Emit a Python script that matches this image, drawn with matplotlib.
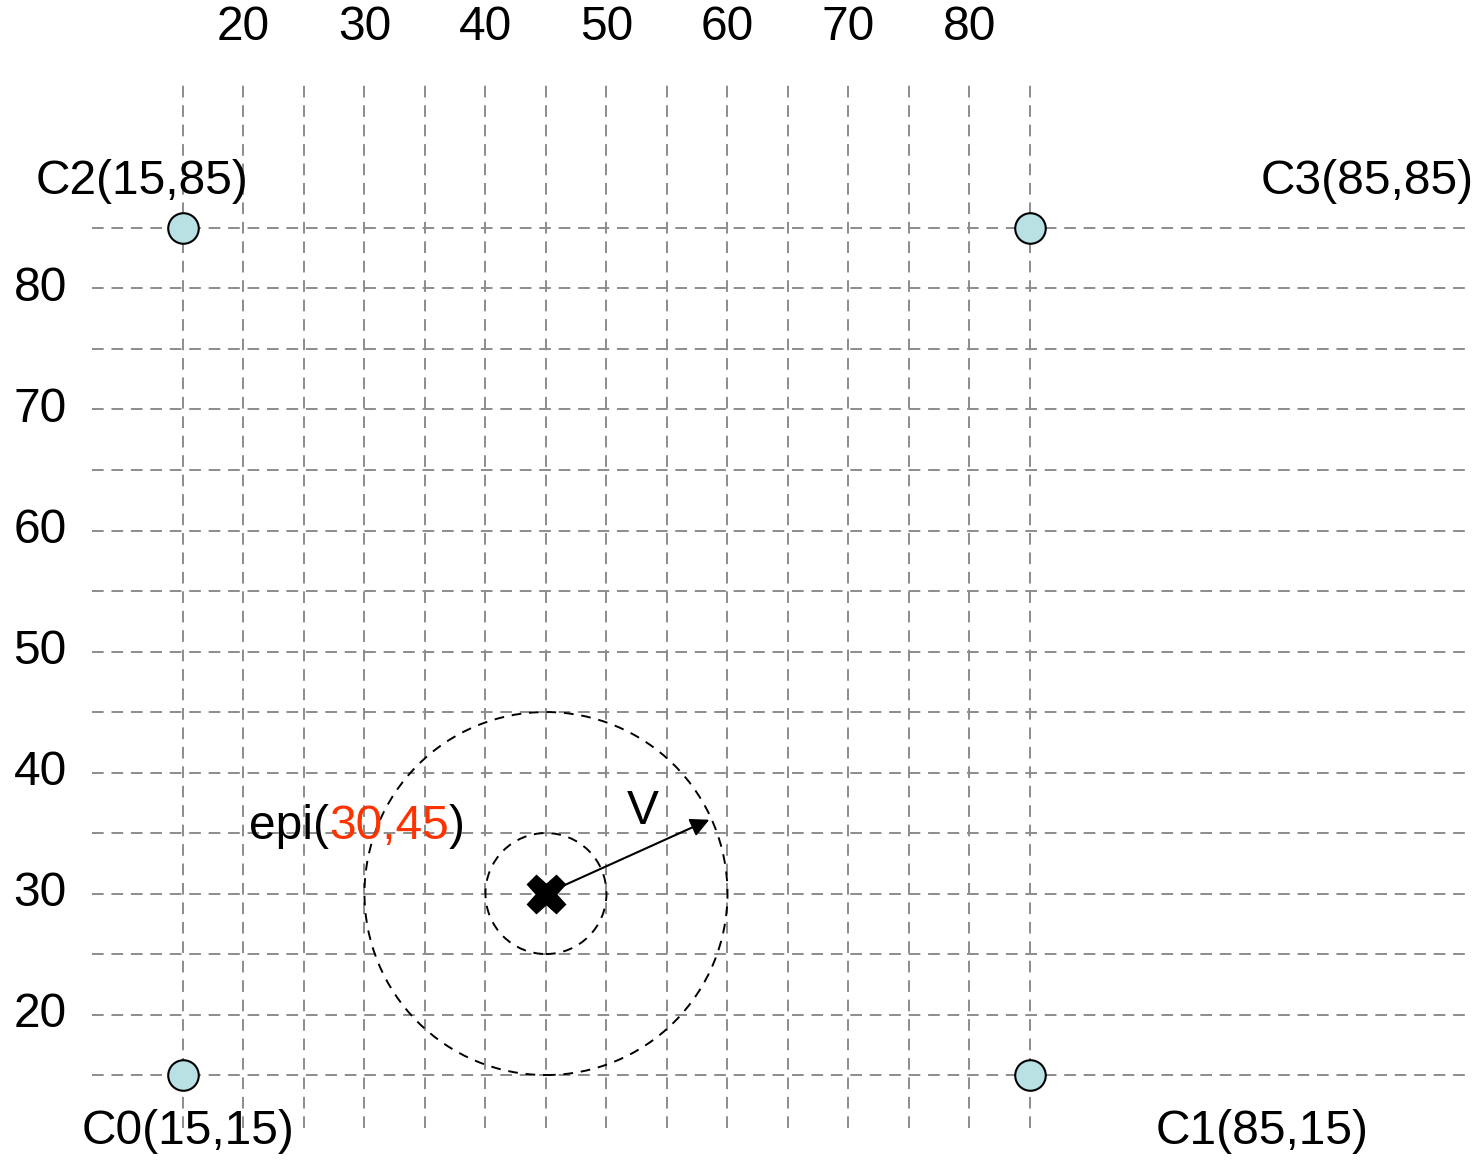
import numpy as np
import matplotlib.pyplot as plt
from matplotlib.patches import Circle

plt.rcParams['font.family'] = ['Liberation Sans', 'DejaVu Sans']

# Datos del diagrama
grid_x = np.arange(15, 90, 5)          # líneas verticales
grid_y = np.arange(15, 90, 5)          # líneas horizontales
x_ticks = [20, 30, 40, 50, 60, 70, 80]
y_ticks = [20, 30, 40, 50, 60, 70, 80]

station_names = ["C0(15,15)", "C1(85,15)", "C2(15,85)", "C3(85,85)"]
station_x = [15, 85, 15, 85]
station_y = [15, 15, 85, 85]

epi_x, epi_y = 45, 30
radii = [5, 15]
v_end = (58.5, 36.1)

FS = 34.5

fig = plt.figure(figsize=(14.76, 11.6), dpi=100)
ax = fig.add_axes([0, 0, 1, 1])
ax.set_xlim(-0.12, 121.86)
ax.set_ylim(7.98, 103.84)
ax.axis("off")

grid_kw = dict(color="#8c8c8c", linewidth=1.4, linestyles=(0, (6, 4)))
ax.vlines(grid_x, 10.6, 97.4, **grid_kw)
ax.hlines(grid_y, 7.5, 121.4, **grid_kw)

# Etiquetas de los ejes
for t in x_ticks:
    ax.text(t, 101.6, str(t), fontsize=FS, ha="center", va="center")
for t in y_ticks:
    ax.text(3.2, t, str(t), fontsize=FS, ha="center", va="center")

# Estaciones
ax.scatter(station_x, station_y, s=22**2, c="#b9e0e3", edgecolors="black",
           linewidths=1.5, zorder=3)
label_pos = [(15.4, 10.3), (104.2, 10.3), (11.6, 88.8), (112.85, 88.8)]
for name, (lx, ly) in zip(station_names, label_pos):
    ax.text(lx, ly, name, fontsize=FS, ha="center", va="center")

# Circulos alrededor del epicentro
for r in radii:
    ax.add_patch(Circle((epi_x, epi_y), r, fill=False, edgecolor="black",
                        linewidth=1.4, linestyle=(0, (5, 4)), zorder=2))

ax.plot(epi_x, epi_y, marker="X", markersize=28, color="black", zorder=4)
ax.annotate("", xy=v_end, xytext=(epi_x, epi_y),
            arrowprops=dict(arrowstyle="-|>", color="black", lw=1.5,
                            mutation_scale=28, shrinkA=0, shrinkB=0), zorder=4)
ax.text(53.0, 36.8, "V", fontsize=FS, ha="center", va="center")

# Etiqueta epi con coordenadas en rojo
t1 = ax.text(20.45, 35.5, "epi(", fontsize=FS, ha="left", va="center")
fig.canvas.draw()
t2 = ax.annotate("30,45", xycoords=t1, xy=(1, 0.5), va="center", ha="left",
                 fontsize=FS, color="#ff3300")
fig.canvas.draw()
ax.annotate(")", xycoords=t2, xy=(1, 0.5), va="center", ha="left", fontsize=FS)

fig.savefig("out.png", dpi=100)
